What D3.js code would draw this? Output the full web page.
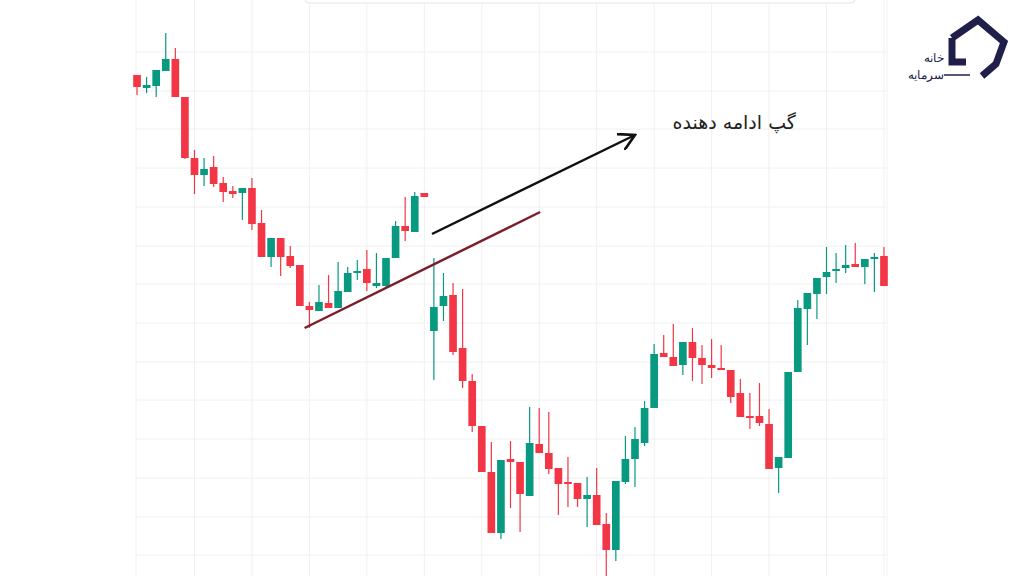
<!DOCTYPE html>
<html><head><meta charset="utf-8">
<script src="https://cdn.jsdelivr.net/npm/d3@7"></script>
<style>body{margin:0;background:#fff}svg{display:block}</style>
</head><body><svg id="c" width="1024" height="576"></svg>
<script>
const opens  = [525,512,514,529,541,503,442,425,433,417,409,407,412,377,343,362,344,335,294,289,297,292,308,327,331,314,314,342,374,368,407,
269,294,305,252,219,174,128,67,141,138,104,156,147,132,118,117,101,105,76,50,
118,141,157,192,247,243,235,258,242,235,232,230,207,184,184,176,132,142,228,291,306,323,329,332,336,333,341,344];
const closes = [513,515,530,541,503,442,425,431,416,408,406,412,376,343,362,343,334,294,290,298,292,309,327,329,317,317,342,374,369,404,403,
293,304,248,219,174,128,67,140,138,106,157,147,131,116,117,101,105,75,50,119,
141,161,192,246,243,234,258,242,235,232,231.5,203,183,183,177,131,143,228,292,307,322,328,331,335,333,341,343,314];
const highs  = [525,523,530,567,552,503,450,442,444,423,414,412,422,390,362,362,354,335,298,315,325,338,333,340,350,347,342,379,403,408,407,
342,327,317,311,226,174,158,140,159,138,193,192,188,132,143,117,123,132,87,119,
164,173,199,256,265,276,258,272,255,261,255,230,221,207,217,191,143,228,300,307,322,353,347,355,357,341,347,353];
const lows   = [505,507,503,529,503,441,406,414,413,398,402,380,370,343,333,324,332,294,272,289,292,292,308,320,309,312,312,342,359,368,403,
220,279,245,212,168,128,67,61,92,68,104,147,126,85,93,93,73,75,24,39,
116,113,154,192,243,234,225,219,216,222,231,197,183,171,174,131,107,142,228,255,281,306,317,327,333,316,308,314];
const gridIdx = [6,12,18,24,30,36,42,48,54,60,66,72,78];
const gridPrices = [548,509,471,432,393,354,316,277,238,200,161,122,83,45];
const trendLine = [[17.5,272],[42.1,388]];
const arrowLine = [[30.8,366],[52.0,465]];
const label = {text:"گپ ادامه دهنده", i:68.8, p:471};

const svg=d3.select("#c");
const n=opens.length;
const x=d3.scaleBand().domain(d3.range(n)).range([133.2,887.8]).paddingInner(0.2);
const cx=i=>x(i)+x.bandwidth()/2;
const xl=d3.scaleLinear().domain([0,n-1]).range([cx(0),cx(n-1)]);
const y=d3.scaleLinear().domain([24,600]).range([576,0]);
const G="#089981",R="#f23645";

const g=svg.append("g");
g.selectAll(".vg").data(gridIdx).join("line").attr("x1",d=>xl(d)).attr("x2",d=>xl(d)).attr("y1",0).attr("y2",576).attr("stroke","#f0f0f0");
g.selectAll(".hg").data(gridPrices).join("line").attr("x1",136).attr("x2",887).attr("y1",d=>y(d)).attr("y2",d=>y(d)).attr("stroke","#f0f0f0");
svg.append("line").attr("x1",136).attr("x2",136).attr("y1",0).attr("y2",576).attr("stroke","#f2f2f2");
svg.append("line").attr("x1",887).attr("x2",887).attr("y1",0).attr("y2",576).attr("stroke","#f2f2f2");

svg.append("rect").attr("x",305).attr("y",-12).attr("width",550).attr("height",15).attr("rx",4).attr("fill","#fff").attr("stroke","#e4e4e4");

const idx=d3.range(n);
svg.selectAll(".wick").data(idx).join("line")
  .attr("x1",cx).attr("x2",cx).attr("y1",i=>y(highs[i])).attr("y2",i=>y(lows[i]))
  .attr("stroke",i=>closes[i]>=opens[i]?G:R).attr("stroke-width",1.2);
svg.selectAll(".body").data(idx).join("rect")
  .attr("x",i=>x(i)).attr("width",x.bandwidth())
  .attr("y",i=>y(Math.max(opens[i],closes[i])))
  .attr("height",i=>Math.max(2,Math.abs(y(opens[i])-y(closes[i]))))
  .attr("fill",i=>closes[i]>=opens[i]?G:R);

const line=d3.line().x(d=>xl(d[0])).y(d=>y(d[1]));
svg.append("path").attr("d",line(trendLine)).attr("stroke","#7b1f2b").attr("stroke-width",2.5).attr("fill","none");
svg.append("defs").append("marker").attr("id","ah").attr("viewBox","0 0 10 10").attr("refX",9).attr("refY",5)
  .attr("markerWidth",18).attr("markerHeight",18).attr("markerUnits","userSpaceOnUse").attr("orient","auto")
  .append("path").attr("d","M0,0 L9,5 L0,10").attr("fill","none").attr("stroke","#111").attr("stroke-width",1.5);
svg.append("path").attr("d",line(arrowLine)).attr("stroke","#111").attr("stroke-width",2.5).attr("fill","none").attr("marker-end","url(#ah)");
svg.append("text").attr("x",xl(label.i)).attr("y",y(label.p)).attr("text-anchor","end")
  .attr("font-family","DejaVu Sans").attr("font-size",19).attr("fill","#222").text(label.text);

// logo
const lg=svg.append("g");
lg.append("path").attr("d","M952,38 L978,20 L1004,42 L996,64 L982,76").attr("fill","none").attr("stroke","#1f1f4a").attr("stroke-width",7).attr("stroke-linejoin","miter");
lg.append("path").attr("d","M952,38 L952,62 L966,62").attr("fill","none").attr("stroke","#1f1f4a").attr("stroke-width",7);
lg.append("text").attr("x",944).attr("y",62).attr("text-anchor","end").attr("font-family","Noto Sans").attr("font-size",12).attr("fill","#1f1f4a").text("خانه");
lg.append("text").attr("x",944).attr("y",79).attr("text-anchor","end").attr("font-family","Noto Sans").attr("font-size",12).attr("fill","#1f1f4a").text("سرمایه");
lg.append("line").attr("x1",944).attr("x2",970).attr("y1",75).attr("y2",75).attr("stroke","#1f1f4a").attr("stroke-width",1.5);
</script></body></html>
